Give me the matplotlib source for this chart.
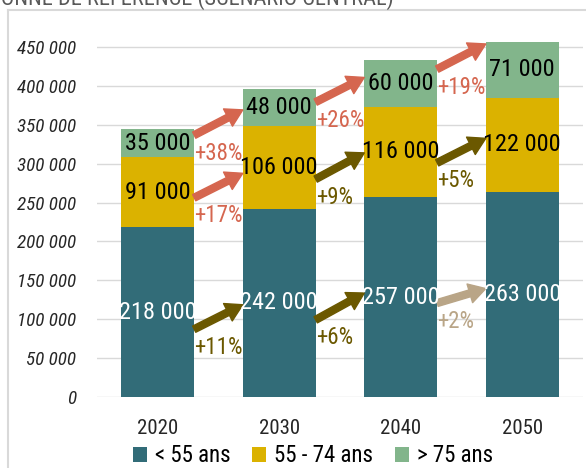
import matplotlib
matplotlib.use("Agg")
import matplotlib.pyplot as plt
from matplotlib.lines import Line2D

plt.rcParams['font.family'] = ['Roboto Condensed', 'Roboto', 'DejaVu Sans']

# --- data -------------------------------------------------------------------
years = ["2020", "2030", "2040", "2050"]
moins_55 = [218000, 242000, 257000, 263000]
de_55_74 = [91000, 106000, 116000, 122000]
plus_75 = [35000, 48000, 60000, 71000]
series_names = ["< 55 ans", "55 - 74 ans", "> 75 ans"]

# growth labels between consecutive years
pct_moins_55 = ["+11%", "+6%", "+2%"]
pct_55_74 = ["+17%", "+9%", "+5%"]
pct_plus_75 = ["+38%", "+26%", "+19%"]

# --- styles -----------------------------------------------------------------
TEAL = "#326c78"
GOLD = "#dbb200"
GREEN = "#82b58b"
SALMON = "#d5664f"
OLIVE = "#6b5800"
TAN = "#b9a587"

arrow_colors = {
    0: [OLIVE, OLIVE, TAN],
    1: [SALMON, OLIVE, OLIVE],
    2: [SALMON, SALMON, SALMON],
}
# where arrows leave / reach a segment (fraction of the segment height)
start_frac = {0: [0.40, 0.41, 0.47], 1: [0.42, 0.36, 0.38], 2: [0.79, 0.65, 0.81]}
end_frac = {0: [0.49, 0.52, 0.53], 1: [0.43, 0.49, 0.57], 2: [0.44, 0.63, 0.97]}


def fmt(v):
    return f"{v:,}".replace(",", " ")


fig = plt.figure(figsize=(5.86, 4.68), dpi=100)
ax = fig.add_axes([97 / 586, 1 - 397 / 468, (583 - 97) / 586, (397 - 31.4) / 468])

# frame around the chart area
fig.add_artist(Line2D([8 / 586, 8 / 586], [0, 1 - 10 / 468], transform=fig.transFigure,
                      color="#d9d9d9", lw=1.5))
fig.add_artist(Line2D([8 / 586, 1], [1 - 10 / 468, 1 - 10 / 468], transform=fig.transFigure,
                      color="#d9d9d9", lw=1.5))
fig.text(394 / 586, 1 - 5 / 468, "PERSONNE DE RÉFÉRENCE (SCÉNARIO CENTRAL)",
         ha="right", va="baseline", fontsize=16, color="#595959")

x = list(range(len(years)))
width = 0.6
layers = [moins_55, de_55_74, plus_75]
colors = [TEAL, GOLD, GREEN]
text_colors = ["white", "black", "black"]
pcts = [pct_moins_55, pct_55_74, pct_plus_75]

bottoms = [0] * len(years)
layer_bottoms = []
for vals, col, tcol, name in zip(layers, colors, text_colors, series_names):
    bars = ax.bar(x, vals, width, bottom=bottoms, color=col, label=name, zorder=2)
    ax.bar_label(bars, labels=[fmt(v) for v in vals], label_type="center",
                 color=tcol, fontsize=17.5, zorder=5)
    layer_bottoms.append(list(bottoms))
    bottoms = [b + v for b, v in zip(bottoms, vals)]

for li, vals in enumerate(layers):
    bots = layer_bottoms[li]
    for i in range(len(years) - 1):
        x0 = x[i] + width / 2
        x1 = x[i + 1] - width / 2
        y0 = bots[i] + start_frac[li][i] * vals[i]
        y1 = bots[i + 1] + end_frac[li][i] * vals[i + 1]
        c = arrow_colors[li][i]
        ax.annotate("", xy=(x1, y1), xytext=(x0, y0),
                    arrowprops=dict(arrowstyle="simple,head_length=1.2,head_width=1.4,tail_width=0.5",
                                    color=c, shrinkA=0, shrinkB=0, mutation_scale=10),
                    zorder=4)
        ax.annotate(pcts[li][i], xy=(x0, y0), xytext=(0, -18), textcoords="offset pixels",
                    ha="left", va="center", color=c, fontsize=16.5, zorder=4)

ax.set_xlim(-0.5, 3.5)
ax.set_ylim(0, 470000)
ax.set_yticks(range(0, 450001, 50000))
ax.set_yticklabels([fmt(v) for v in range(0, 450001, 50000)], fontstyle="italic",
                   fontsize=13.8, color="#262626")
ax.set_xticks(x)
ax.set_xticklabels(years, fontsize=15, color="#262626")
ax.tick_params(axis="y", length=0, pad=15)
ax.tick_params(axis="x", length=0, pad=16)
ax.grid(axis="y", color="#d9d9d9", lw=1, zorder=0)
for s in ax.spines.values():
    s.set_visible(False)

fig.legend(loc="center", bbox_to_anchor=(313 / 586, 1 - 456 / 468), ncol=3, frameon=False,
           fontsize=16.5, handlelength=0.6, handleheight=0.6, handletextpad=0.35,
           columnspacing=0.95, borderpad=0)

fig.savefig("out.png", dpi=100)
